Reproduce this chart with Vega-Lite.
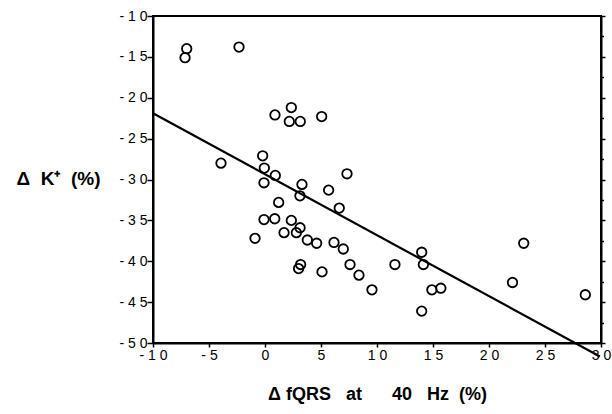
{
  "$schema": "https://vega.github.io/schema/vega-lite/v6.json",
  "width": 448,
  "height": 327,
  "autosize": {"type": "none"},
  "padding": {"left": 153, "top": 16, "right": 11, "bottom": 71},
  "background": "white",
  "config": {
    "view": {"stroke": "black", "strokeWidth": 2},
    "axis": {
      "domainColor": "black", "domainWidth": 2,
      "tickColor": "black", "tickWidth": 1.5,
      "labelColor": "black", "labelFont": "Liberation Sans", "labelFontSize": 14,
      "titleColor": "black", "titleFont": "Liberation Sans",
      "grid": false
    }
  },
  "datasets": {
    "pts": [
      {"x": -6.99, "y": -14.0}, {"x": -7.14, "y": -15.1}, {"x": -2.32, "y": -13.8},
      {"x": 0.89, "y": -22.1}, {"x": 2.35, "y": -21.2}, {"x": 2.17, "y": -22.9},
      {"x": 3.15, "y": -22.9}, {"x": 5.06, "y": -22.3}, {"x": -3.93, "y": -28.0},
      {"x": -0.21, "y": -27.1}, {"x": -0.06, "y": -28.6}, {"x": 0.92, "y": -29.5},
      {"x": -0.09, "y": -30.4}, {"x": 3.3, "y": -30.6}, {"x": 5.68, "y": -31.3},
      {"x": 3.12, "y": -32.0}, {"x": 7.32, "y": -29.3}, {"x": 1.22, "y": -32.8},
      {"x": 6.63, "y": -33.5}, {"x": -0.09, "y": -34.9}, {"x": 0.87, "y": -34.8},
      {"x": 2.35, "y": -35.0}, {"x": 3.13, "y": -35.9}, {"x": -0.89, "y": -37.2},
      {"x": 1.7, "y": -36.5}, {"x": 2.8, "y": -36.5}, {"x": 3.78, "y": -37.4},
      {"x": 4.61, "y": -37.8}, {"x": 6.16, "y": -37.7}, {"x": 6.99, "y": -38.5},
      {"x": 7.59, "y": -40.4}, {"x": 3.18, "y": -40.4}, {"x": 3.0, "y": -40.9},
      {"x": 5.09, "y": -41.3}, {"x": 8.39, "y": -41.7}, {"x": 9.55, "y": -43.5},
      {"x": 11.6, "y": -40.4}, {"x": 13.99, "y": -38.9}, {"x": 14.14, "y": -40.4},
      {"x": 14.9, "y": -43.5}, {"x": 15.7, "y": -43.3}, {"x": 13.99, "y": -46.1},
      {"x": 22.1, "y": -42.6}, {"x": 23.1, "y": -37.8}, {"x": 28.6, "y": -44.1}
    ],
    "fit": [{"x": -10, "y": -21.9}, {"x": 29.9, "y": -51.65}]
  },
  "layer": [
    {
      "layer": [
        {
          "mark": {"type": "rule", "color": "#444", "strokeWidth": 1, "strokeDash": [1, 1]},
          "encoding": {"x": {"datum": 0, "type": "quantitative"}}
        },
        {
          "data": {"name": "fit"},
          "mark": {"type": "line", "color": "black", "strokeWidth": 2.2, "clip": false},
          "encoding": {
            "x": {"field": "x", "type": "quantitative"},
            "y": {"field": "y", "type": "quantitative"}
          }
        },
        {
          "data": {"name": "pts"},
          "mark": {"type": "point", "shape": "circle", "filled": false, "color": "black", "strokeWidth": 1.8, "size": 90, "opacity": 1},
          "encoding": {
            "x": {
              "field": "x", "type": "quantitative",
              "scale": {"domain": [-10, 30], "nice": false, "zero": false},
              "axis": {
                "orient": "bottom",
                "offset": 0,
                "values": [-10, -7.5, -5, -2.5, 0, 2.5, 5, 7.5, 10, 12.5, 15, 17.5, 20, 22.5, 25, 27.5, 30],
                "labelExpr": "datum.value % 5 == 0 ? join(split(toString(datum.value), ''), ' ') : ''",
                "tickSize": {"condition": {"test": "datum.value % 5 == 0", "value": 4}, "value": 2.5},
                "labelPadding": 1,
                "labelFlush": false,
                "title": "Δ fQRS\u00a0\u00a0\u00a0at\u00a0\u00a0\u00a0\u00a0\u00a0\u00a040\u00a0\u00a0\u00a0Hz\u00a0\u00a0(%)",
                "titleFontSize": 18, "titleFontWeight": "bold", "titlePadding": 23
              }
            },
            "y": {
              "field": "y", "type": "quantitative",
              "scale": {"domain": [-50, -10], "nice": false, "zero": false},
              "axis": {
                "orient": "left",
                "offset": 0,
                "values": [-50, -47.5, -45, -42.5, -40, -37.5, -35, -32.5, -30, -27.5, -25, -22.5, -20, -17.5, -15, -12.5, -10],
                "labelExpr": "datum.value % 5 == 0 ? join(split(toString(datum.value), ''), ' ') : ''",
                "tickSize": {"condition": {"test": "datum.value % 5 == 0", "value": 6}, "value": 3},
                "labelPadding": 0,
                "labelFlush": false,
                "title": "Δ\u00a0\u00a0K⁺\u00a0\u00a0(%)",
                "titleAngle": 0, "titleAlign": "right", "titleBaseline": "middle",
                "titleX": -53, "titleY": 162,
                "titleFontSize": 19, "titleFontWeight": "bold"
              }
            }
          }
        }
      ]
    },
    {
      "data": {"name": "pts"},
      "mark": {"type": "point", "opacity": 0},
      "encoding": {
        "x": {"field": "x", "type": "quantitative"},
        "y": {
          "field": "y", "type": "quantitative",
          "scale": {"domain": [-50, -10], "nice": false, "zero": false},
          "axis": {
            "orient": "right",
            "offset": 0,
            "values": [-50, -47.5, -45, -42.5, -40, -37.5, -35, -32.5, -30, -27.5, -25, -22.5, -20, -17.5, -15, -12.5, -10],
            "labels": false,
            "tickSize": {"condition": {"test": "datum.value % 5 == 0", "value": 4}, "value": 2.5},
            "title": null
          }
        }
      }
    }
  ],
  "resolve": {"scale": {"y": "independent"}, "axis": {"y": "independent"}}
}
